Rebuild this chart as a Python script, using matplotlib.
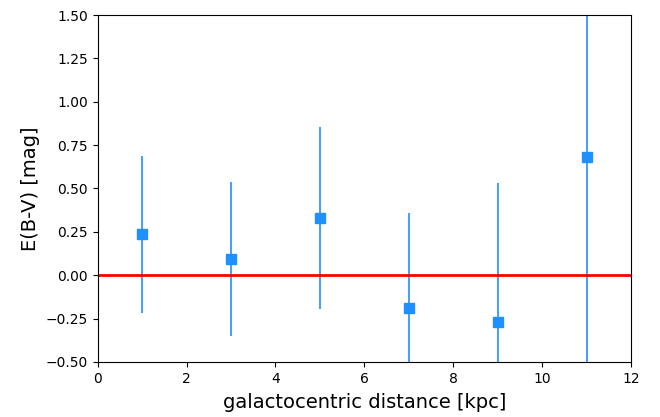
import matplotlib
matplotlib.use('Agg')
import matplotlib.pyplot as plt

# galactocentric distance bins and E(B-V) estimates
distance = [1, 3, 5, 7, 9, 11]
ebv = [0.235, 0.095, 0.33, -0.19, -0.27, 0.68]
ebv_err = [0.45, 0.445, 0.525, 0.55, 0.80, 1.25]

fig = plt.figure(figsize=(6.6, 4.17), dpi=100)
ax = fig.add_axes([0.148, 0.132, 0.808, 0.832])
ax.errorbar(distance, ebv, yerr=ebv_err, fmt='s', color='dodgerblue',
            ecolor='dodgerblue', markersize=7.5, elinewidth=1.2, capsize=0)
ax.axhline(0, color='red', lw=2)
ax.set_xlim(0, 12)
ax.set_ylim(-0.5, 1.5)
ax.set_xlabel('galactocentric distance [kpc]', fontsize=14, labelpad=5)
ax.set_ylabel('E(B-V) [mag]', fontsize=14)
ax.tick_params(labelsize=10)
fig.savefig('out.png', dpi=100)
